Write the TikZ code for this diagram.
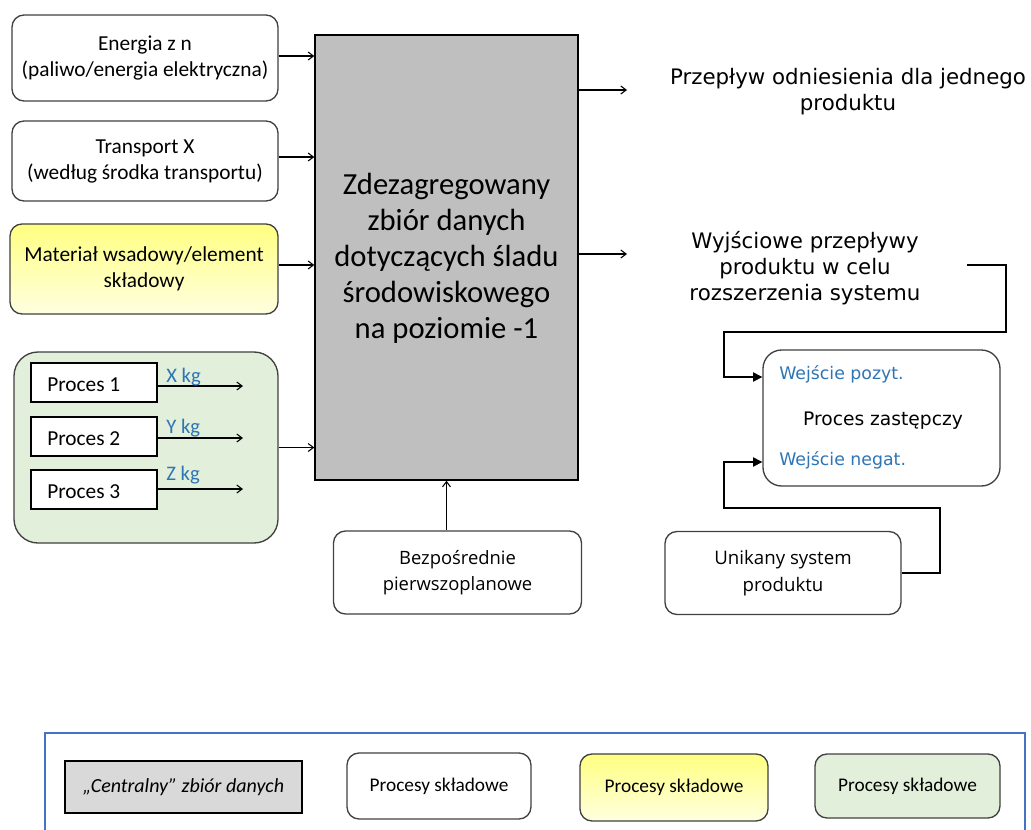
\documentclass[tikz,border=0pt]{standalone}
\usepackage{fontspec}
\setmainfont{Carlito}
\newfontfamily\verd{DejaVu Sans}
\newfontfamily\osans{Open Sans}
\usetikzlibrary{arrows.meta}
\definecolor{bord}{HTML}{404040}
\definecolor{grayfill}{HTML}{BFBFBF}
\definecolor{greenfill}{HTML}{E2EFDA}
\definecolor{lblue}{HTML}{2E75B6}
\definecolor{legblue}{HTML}{4472C4}
\definecolor{ytop}{HTML}{FFFF80}
\definecolor{ybot}{HTML}{FFFFE0}
\begin{document}
\begin{tikzpicture}[x=0.75pt,y=-0.75pt,
  rbox/.style={draw=bord, line width=1pt, rounded corners=9pt, fill=white, align=center, inner sep=0pt,
    font=\fontsize{16}{19.5}\selectfont},
  obox/.style={rbox, font=\osans\fontsize{14}{20}\selectfont},
  pbox/.style={draw=black, line width=0.9pt, fill=white, inner sep=0pt},
  ybox/.style={rbox, top color=ytop, bottom color=ybot},
  arr/.style={draw=black, line width=0.8pt, -{Straight Barb[length=4pt,width=6pt]}},
  tarr/.style={draw=black, line width=0.9pt, -{Triangle[length=7pt,width=7pt]}},
  kg/.style={text=lblue, font=\fontsize{15.5}{18}\selectfont, anchor=west, inner sep=0pt},
  rtext/.style={align=center, font=\verd\fontsize{16}{19.5}\selectfont, inner sep=0pt},
  leg/.style={font=\fontsize{14.5}{17}\selectfont, align=center, inner sep=0pt}
]
\useasboundingbox (0,0) rectangle (1031,829);
\fill[white] (0,0) rectangle (1031,829);

% left column
\node[rbox, minimum width=199.5pt, minimum height=64.5pt] (en) at (145,58)
  {Energia z n\\(paliwo/energia elektryczna)};
\node[rbox, minimum width=199.5pt, minimum height=60pt] (tr) at (145,161)
  {Transport X\\(według środka transportu)};
\node[ybox, minimum width=201pt, minimum height=67.5pt] (ma) at (144,269)
  {Materiał wsadowy/element\\składowy};
\node[rbox, fill=greenfill, rounded corners=18pt, minimum width=198pt, minimum height=143.25pt] (gr) at (146,447.5) {};

\node[pbox, minimum width=94.5pt, minimum height=29.25pt] (p1) at (94,382.5) {};
\node[pbox, minimum width=94.5pt, minimum height=29.25pt] (p2) at (94,436.5) {};
\node[pbox, minimum width=94.5pt, minimum height=29.25pt] (p3) at (94,489.5) {};
\node[anchor=west, inner sep=0pt, font=\fontsize{16}{19}\selectfont] (t1) at (47,385) {Proces 1};
\node[anchor=west, inner sep=0pt, font=\fontsize{16}{19}\selectfont] (t2) at (47,439) {Proces 2};
\node[anchor=west, inner sep=0pt, font=\fontsize{16}{19}\selectfont] (t3) at (47,492) {Proces 3};
\coordinate (e1) at (243,386);
\coordinate (e2) at (243,438);
\coordinate (e3) at (243,489);
\draw[arr] (p1.east |- e1) -- (e1);
\draw[arr] (p2.east |- e2) -- (e2);
\draw[arr] (p3.east |- e3) -- (e3);
\node[kg] (k1) at (166,377) {X kg};
\node[kg] (k2) at (166,428) {Y kg};
\node[kg] (k3) at (166,475) {Z kg};

% central box
\node[draw=black, line width=1pt, fill=grayfill, minimum width=197.25pt, minimum height=333.75pt, inner sep=0pt] (gy) at (446.5,257.5) {};
\node[align=center, inner sep=0pt, font=\fontsize{23}{27}\selectfont] (gyt) at (446.5,258)
  {Zdezagregowany\\zbiór danych\\dotyczących śladu\\środowiskowego\\na poziomie -1};

\draw[arr] ([yshift=1.5pt]en.east) -- ([yshift=1.5pt]en.east -| gy.west);
\draw[arr] ([yshift=3pt]tr.east) -- ([yshift=3pt]tr.east -| gy.west);
\draw[arr] ([yshift=3pt]ma.east) -- ([yshift=3pt]ma.east -| gy.west);
\draw[arr] (gr.east) -- (gr.east -| gy.west);

% outputs
\node[rtext] (ref) at (848,92) {Przepływ odniesienia dla jednego\\produktu};
\node[rtext] (out) at (805,268) {Wyjściowe przepływy\\produktu w celu\\rozszerzenia systemu};
\coordinate (o1) at (627,90);
\coordinate (o2) at (627,254);
\draw[arr] (gy.east |- o1) -- (o1);
\draw[arr] (gy.east |- o2) -- (o2);

% substitution process
\node[rbox, rounded corners=14pt, minimum width=177.75pt, minimum height=102pt] (zs) at (881.5,418) {};
\node[inner sep=0pt, font=\verd\fontsize{14}{17}\selectfont] (zst) at (883,421) {Proces zastępczy};
\node[inner sep=0pt, anchor=west, text=lblue, font=\verd\fontsize{13}{16}\selectfont] (wp) at (779,374) {Wejście pozyt.};
\node[inner sep=0pt, anchor=west, text=lblue, font=\verd\fontsize{13}{16}\selectfont] (wn) at (779,460) {Wejście negat.};

\node[obox, minimum width=177pt, minimum height=62.25pt] (un) at (783,573) {Unikany system\\produktu};
\node[obox, font=\osans\fontsize{13.8}{20}\selectfont, minimum width=186pt, minimum height=62.25pt] (bz) at (457.5,572.5) {Bezpośrednie\\pierwszoplanowe};
\draw[arr] (gy.south |- bz.north) -- (gy.south);

\coordinate (a1) at (967,265);
\coordinate (a2) at (1006,265);
\coordinate (a3) at (1006,332);
\coordinate (a4) at (724,332);
\coordinate (a5) at (724,377);
\draw[tarr] (a1) -- (a2) -- (a3) -- (a4) -- (a5) -- (a5 -| zs.west);
\coordinate (b2) at (940,573);
\coordinate (b3) at (940,508);
\coordinate (b4) at (724,508);
\coordinate (b5) at (724,462);
\draw[tarr] (un.east |- b2) -- (b2) -- (b3) -- (b4) -- (b5) -- (b5 -| zs.west);

% legend
\draw[legblue, line width=1pt] (45,850) -- (45,733) -- (1025,733) -- (1025,850);
\node[draw=black, line width=1.2pt, fill=black!15, minimum width=177.75pt, minimum height=39pt, inner sep=0pt,
  font=\itshape\fontsize{15}{18}\selectfont] (l1) at (183.5,787) {„Centralny” zbiór danych};
\node[rbox, rounded corners=9pt, minimum width=138pt, minimum height=49.5pt, leg] (l2) at (439,786) {Procesy składowe};
\node[ybox, rounded corners=9pt, minimum width=141pt, minimum height=50.25pt, leg] (l3) at (674,787.5) {Procesy składowe};
\node[rbox, fill=greenfill, rounded corners=9pt, minimum width=138.75pt, minimum height=48pt, leg] (l4) at (907.5,786) {Procesy składowe};
\end{tikzpicture}
\end{document}
